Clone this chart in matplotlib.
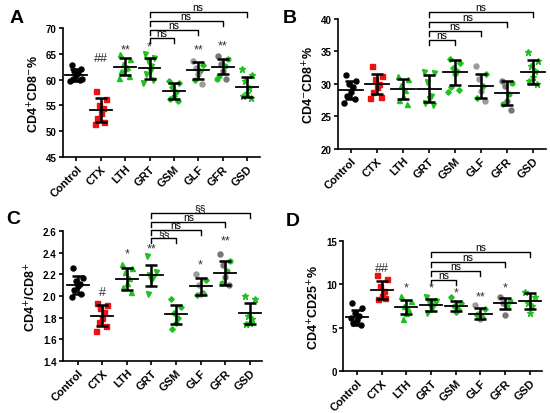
import numpy as np
import matplotlib
matplotlib.use("Agg")
import matplotlib.pyplot as plt

plt.rcParams['font.family'] = ['Liberation Sans', 'DejaVu Sans']

########################################################################
# Data

groups = ["Control", "CTX", "LTH", "GRT", "GSM", "GLF", "GFR", "GSD"]

# panel A: CD4+CD8-%
a_points = [
    [62.8, 62.0, 61.7, 61.3, 60.9, 60.2, 60.0, 59.8, 60.1],
    [57.7, 56.3, 55.1, 54.5, 53.6, 52.6, 51.8, 51.4],
    [64.9, 63.9, 63.0, 62.5, 62.2, 61.6, 60.6, 60.4],
    [64.9, 64.2, 63.6, 62.6, 61.6, 61.0, 59.9, 59.4],
    [59.8, 59.4, 58.5, 57.6, 56.9, 56.2, 55.9],
    [63.6, 62.9, 62.3, 61.6, 61.0, 60.0, 59.1],
    [64.6, 64.0, 63.0, 62.6, 61.7, 60.7, 60.1, 60.2],
    [62.0, 60.8, 59.7, 58.4, 57.4, 56.8, 56.5],
]
a_mean = [60.9, 54.1, 62.5, 62.2, 57.8, 61.8, 62.5, 58.6]
a_sd = [1.1, 2.3, 1.7, 2.0, 1.6, 1.6, 1.5, 1.9]
a_sig = ["", "##", "**", "*", "", "**", "**", ""]
a_sig_y = [0, 64.2, 65.9, 66.5, 0, 65.9, 66.7, 0]
a_brackets = [68.1, 69.6, 71.4, 73.1]
a_bracket_labels = ["ns", "ns", "ns", "ns"]

# panel B: CD4-CD8+%
b_points = [
    [31.4, 30.5, 30.0, 29.5, 28.7, 28.2, 27.7, 27.1],
    [32.7, 31.3, 30.8, 30.0, 29.5, 28.7, 28.0, 27.9],
    [31.2, 30.8, 29.8, 29.0, 28.2, 27.5, 26.9],
    [31.9, 31.7, 30.3, 28.2, 27.7, 27.1, 26.8],
    [33.8, 33.3, 32.5, 32.0, 31.6, 29.6, 29.1, 28.7],
    [32.8, 31.5, 30.7, 29.7, 28.9, 27.9, 27.4],
    [30.4, 30.2, 29.7, 28.4, 27.4, 26.9, 26.0],
    [34.9, 33.6, 32.8, 32.0, 31.0, 30.5, 30.0],
]
b_mean = [29.1, 30.0, 29.2, 29.3, 31.8, 29.7, 28.6, 31.9]
b_sd = [1.4, 1.5, 1.5, 2.1, 1.95, 1.9, 1.85, 1.85]
b_sig = ["", "", "", "", "", "", "", ""]
b_sig_y = [0, 0, 0, 0, 0, 0, 0, 0]
b_brackets = [36.8, 38.2, 39.5, 41.1]
b_bracket_labels = ["ns", "ns", "ns", "ns"]

# panel C: CD4+/CD8+
c_points = [
    [2.26, 2.17, 2.14, 2.11, 2.09, 2.06, 2.02, 1.99],
    [1.94, 1.92, 1.89, 1.85, 1.80, 1.76, 1.72, 1.68],
    [2.30, 2.26, 2.22, 2.17, 2.12, 2.08, 2.04],
    [2.37, 2.22, 2.19, 2.18, 2.15, 2.02],
    [1.97, 1.90, 1.84, 1.80, 1.75, 1.70],
    [2.20, 2.15, 2.10, 2.03, 2.02, 2.01],
    [2.39, 2.32, 2.29, 2.23, 2.18, 2.12, 2.10],
    [2.00, 1.97, 1.82, 1.79, 1.75, 1.74],
]
c_mean = [2.10, 1.82, 2.16, 2.19, 1.83, 2.09, 2.21, 1.84]
c_sd = [0.085, 0.10, 0.10, 0.10, 0.09, 0.08, 0.11, 0.10]
c_sig = ["", "#", "*", "**", "", "*", "**", ""]
c_sig_y = [0, 2.04, 2.39, 2.44, 0, 2.29, 2.51, 0]
c_brackets = [2.535, 2.61, 2.683, 2.766]
c_bracket_labels = ["§§", "ns", "ns", "§§"]

# panel D: CD4+CD25+%
d_points = [
    [7.8, 7.3, 6.7, 6.3, 5.9, 5.5, 5.3, 6.1],
    [11.1, 10.6, 9.8, 9.2, 8.7, 8.3, 8.4],
    [8.65, 8.1, 7.5, 7.1, 6.7, 6.0],
    [8.5, 8.1, 7.9, 7.5, 7.1, 6.7, 7.8],
    [8.5, 7.9, 7.5, 7.1, 6.8],
    [7.6, 7.1, 6.6, 6.2, 5.95, 6.5],
    [8.5, 8.1, 7.8, 7.5, 6.5],
    [9.1, 8.5, 7.9, 7.5, 6.65],
]
d_mean = [6.2, 9.35, 7.4, 7.6, 7.5, 6.6, 7.8, 8.1]
d_sd = [0.85, 1.0, 0.85, 0.7, 0.6, 0.65, 0.6, 0.9]
d_sig = ["", "##", "*", "*", "*", "**", "*", ""]
d_sig_y = [0, 11.9, 9.6, 9.6, 9.1, 8.65, 9.6, 0]
d_brackets = [10.5, 11.54, 12.58, 13.73]
d_bracket_labels = ["ns", "ns", "ns", "ns"]

########################################################################
# Styles

GREEN = "#1ec21e"
GREY = "#9a9a9a"
styles = [
    [("o", "black")],
    [("s", "#ee1111")],
    [("^", GREEN)],
    [("v", GREEN)],
    [("D", GREEN)],
    [("o", GREY), ("D", GREEN)],
    [("o", "#777777"), ("h", GREEN)],
    [("*", GREEN)],
]
offsets = [-0.2, 0.2, -0.08, 0.08, 0.0, -0.15, 0.15, -0.25, 0.25]


def panel(ax, pts, means, sds, sig, sig_y, brackets, blabels, ylim, yticks, ylabel, xlim):
    drop = 0.038 * (ylim[1] - ylim[0])
    for i, vals in enumerate(pts):
        for j, v in enumerate(vals):
            m, col = styles[i][j % len(styles[i])]
            ms = 3.6 if m not in ("D", "*") else (2.8 if m == "D" else 4.5)
            ax.plot(i + offsets[j % len(offsets)], v, m, color=col, ms=ms,
                    mec=col, zorder=2, clip_on=False)
        ax.errorbar(i, means[i], yerr=sds[i], fmt="none", ecolor="black",
                    elinewidth=1.8, capsize=4, capthick=1.8, zorder=3)
        ax.plot([i - 0.45, i + 0.45], [means[i]] * 2, color="black", lw=1.3, zorder=3)
        if sig[i]:
            ax.text(i, sig_y[i], sig[i], ha="center", va="center", fontsize=9,
                    color="#333333")
    for k, (h, lab) in enumerate(zip(brackets, blabels)):
        x0, x1 = 3, 4 + k
        ax.plot([x0, x0, x1, x1], [h - drop, h, h, h - drop], color="black",
                lw=1.0, clip_on=False)
        ax.text((x0 + x1) / 2, h, lab, ha="center", va="bottom", fontsize=7.5)

    ax.set_xlim(*xlim)
    ax.set_ylim(*ylim)
    ax.set_yticks(yticks)
    ax.set_xticks(range(len(groups)))
    ax.set_xticklabels(groups, rotation=45, ha="right", rotation_mode="anchor",
                       fontsize=8, fontweight="bold")
    for lab in ax.get_yticklabels():
        lab.set_fontweight("bold")
        lab.set_fontsize(7)
    ax.set_ylabel(ylabel, fontsize=9, fontweight="bold", labelpad=3)
    ax.spines["top"].set_visible(False)
    ax.spines["right"].set_visible(False)
    ax.spines["left"].set_linewidth(1.2)
    ax.spines["bottom"].set_linewidth(1.2)
    ax.tick_params(width=1.2, length=3, pad=1.5)


fig = plt.figure(figsize=(5.5, 4.14), dpi=100)
axA = fig.add_axes([0.1145, 0.6184, 0.359, 0.3116])
axB = fig.add_axes([0.6145, 0.6377, 0.378, 0.314])
axC = fig.add_axes([0.1145, 0.1256, 0.362, 0.314])
axD = fig.add_axes([0.6236, 0.1014, 0.362, 0.314])

panel(axA, a_points, a_mean, a_sd, a_sig, a_sig_y, a_brackets, a_bracket_labels,
      (45, 70), [45, 50, 55, 60, 65, 70], "CD4$^{+}$CD8$^{-}$%", (-0.55, 7.55))
panel(axB, b_points, b_mean, b_sd, b_sig, b_sig_y, b_brackets, b_bracket_labels,
      (20, 40), [20, 25, 30, 35, 40], "CD4$^{-}$CD8$^{+}$%", (-0.5, 7.5))
panel(axC, c_points, c_mean, c_sd, c_sig, c_sig_y, c_brackets, c_bracket_labels,
      (1.4, 2.6), [1.4, 1.6, 1.8, 2.0, 2.2, 2.4, 2.6], "CD4$^{+}$/CD8$^{+}$", (-0.6, 7.5))
axC.yaxis.set_major_formatter(matplotlib.ticker.FormatStrFormatter("%.1f"))
for lab in axC.get_yticklabels():
    lab.set_fontweight("bold")
panel(axD, d_points, d_mean, d_sd, d_sig, d_sig_y, d_brackets, d_bracket_labels,
      (0, 15), [0, 5, 10, 15], "CD4$^{+}$CD25$^{+}$%", (-0.57, 7.5))

for x, y, letter in [(0.018, 0.955, "A"), (0.515, 0.955, "B"),
                     (0.012, 0.47, "C"), (0.52, 0.465, "D")]:
    fig.text(x, y, letter, fontsize=14, fontweight="bold", va="center")

fig.savefig("out.png", dpi=100)
